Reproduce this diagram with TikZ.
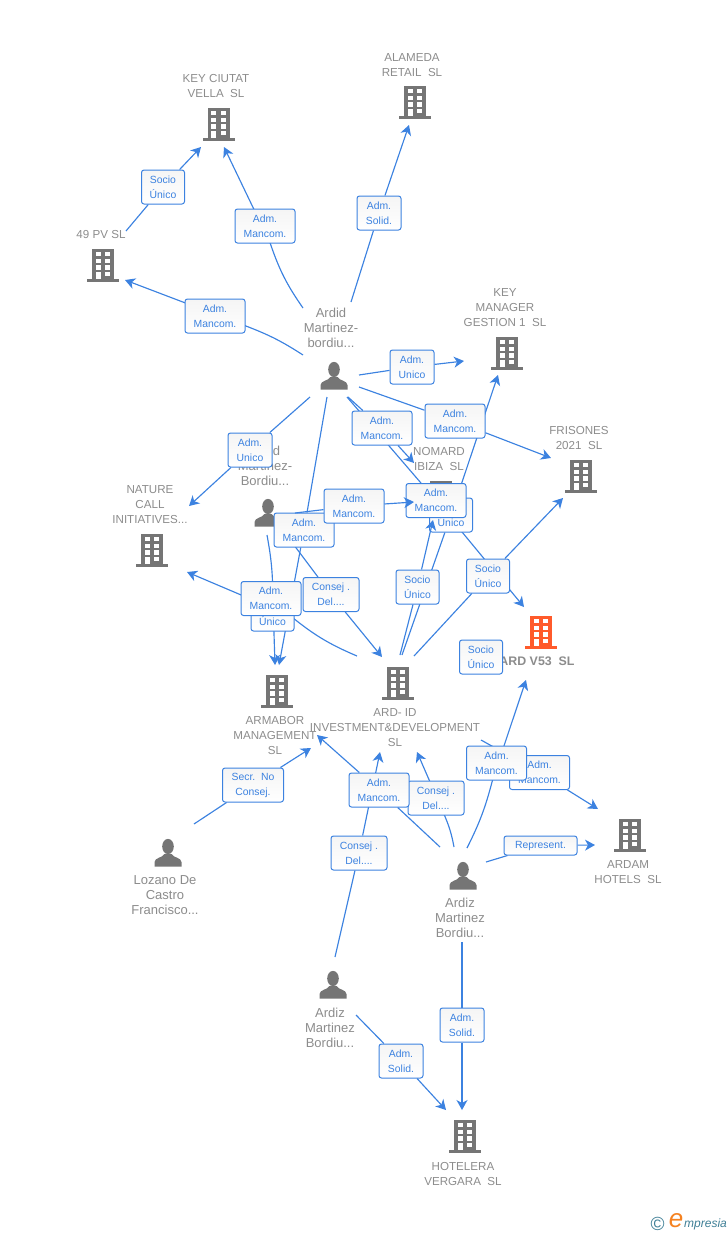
\documentclass[tikz,border=0pt]{standalone}
\usepackage{fontspec}
\setmainfont{Liberation Sans}
\usepackage{tikz}
\usetikzlibrary{arrows.meta,backgrounds}

\definecolor{linkblue}{HTML}{3C82E0}
\definecolor{iconcol}{HTML}{757575}
\definecolor{textcol}{HTML}{8C8C8C}
\definecolor{mainorange}{HTML}{FF5A2B}
\definecolor{logoteal}{HTML}{3F7F96}
\definecolor{logoorange}{HTML}{F58220}

\tikzset{
    building/.pic={
        \fill [#1] (-11,-16.5) rectangle (11,13.5);
        \fill [#1] (-16,13.5) rectangle (16,16.5);
        \foreach \r in {-13,-6.4,0.2} {
            \fill [white] (-7.5,\r) rectangle (-2.3,\r+4.4);
            \fill [white] (2.1,\r) rectangle (7.3,\r+4.4);
        }
        \fill [white] (-7.5,6.8) rectangle (-2.3,13.5);
        \fill [white] (2.1,6.8) rectangle (7.3,11.2);
    },
    person/.pic={
        \fill [iconcol] (0,-6.5) ellipse (5.8 and 7.6);
        \fill [iconcol] (-13.5,13.5) -- (-13.5,9) .. controls (-13,4.5) and (-6,5) .. (-3.5,1) -- (3.5,1) .. controls (6,5) and (13,4.5) .. (13.5,9) -- (13.5,13.5) -- cycle;
    },
    company/.style = {text = textcol, align = center, inner sep = 0, font = \fontsize{11.6}{15}\selectfont},
    owner/.style = {text = textcol, align = center, inner sep = 0, font = \fontsize{13}{15}\selectfont},
    rolebox/.style = {draw = linkblue, line width = 1pt, rounded corners = 2.5pt, top color = black!4, bottom color = white,
        text = linkblue, align = center, inner sep = 0, minimum height = 34, minimum width = #1, font = \fontsize{10.4}{15}\selectfont},
    rolebox/.default = 60,
    link/.style = {draw = linkblue, line width = 1.15pt, -{Stealth[length = 10pt, width = 11pt, inset = 3pt]}}
}

\begin{document}
\begin{tikzpicture}[x = 1pt, y = -1pt]
    \useasboundingbox (0,0) rectangle (728,1235);

    \pic at (218.5,124) {building = iconcol};
    \pic at (415,102) {building = iconcol};
    \pic at (103,265) {building = iconcol};
    \pic at (507,353) {building = iconcol};
    \pic at (581,476) {building = iconcol};
    \pic at (441,497) {building = iconcol};
    \pic at (152,550) {building = iconcol};
    \pic at (541,632) {building = mainorange};
    \pic at (277,691) {building = iconcol};
    \pic at (398,683) {building = iconcol};
    \pic at (630,835) {building = iconcol};
    \pic at (465,1136) {building = iconcol};

    \pic at (334,376) {person};
    \pic at (268,513) {person};
    \pic at (168,853) {person};
    \pic at (463,876) {person};
    \pic at (333,985) {person};

    \node [company] (keyciutat) at (216,86) {KEY CIUTAT\\VELLA\ \ SL};
    \node [company] (alameda) at (412,65) {ALAMEDA\\RETAIL\ \ SL};
    \node [company] (pv49) at (101,234.5) {49 PV SL};
    \node [company] (keymanager) at (505,307.5) {KEY\\MANAGER\\GESTION 1\ \ SL};
    \node [company] (frisones) at (579,438) {FRISONES\\2021\ \ SL};
    \node [company] (nomard) at (439,459) {NOMARD\\IBIZA\ \ SL};
    \node [company] (nature) at (150,504.5) {NATURE\\CALL\\INITIATIVES...};
    \node [company, font = \fontsize{12.4}{15}\selectfont\bfseries] (ardv53) at (537,661.5) {ARD V53\ \ SL};
    \node [company] (armabor) at (275,735.5) {ARMABOR\\MANAGEMENT\\SL};
    \node [company] (ardid) at (395,727.5) {ARD- ID\\INVESTMENT\&DEVELOPMENT\\SL};
    \node [company] (ardam) at (628,872) {ARDAM\\HOTELS\ \ SL};
    \node [company] (hotelera) at (463,1174) {HOTELERA\\VERGARA\ \ SL};

    \node [owner] (ardidtop) at (331,328) {Ardid\\Martinez-\\bordiu...};
    \node [owner] (ardidmid) at (265,466) {Ardid\\Martinez-\\Bordiu...};
    \node [owner] (lozano) at (165,895) {Lozano De\\Castro\\Francisco...};
    \node [owner] (ardizright) at (460,918) {Ardiz\\Martinez\\Bordiu...};
    \node [owner] (ardizleft) at (330,1028) {Ardiz\\Martinez\\Bordiu...};

    \node [rolebox = 43] (r1) at (163,187) {Socio\\Único};
    \node [rolebox] (r2) at (265,226) {Adm.\\Mancom.};
    \node [rolebox = 44] (r3) at (379,213) {Adm.\\Solid.};
    \node [rolebox] (r4) at (215,316) {Adm.\\Mancom.};
    \node [rolebox = 44] (r5) at (412,367) {Adm.\\Unico};
    \node [rolebox] (r6) at (455,421) {Adm.\\Mancom.};
    \node [rolebox] (r7) at (382,428) {Adm.\\Mancom.};
    \node [rolebox = 44] (r8) at (250,450) {Adm.\\Unico};
    \node [rolebox = 43] (r9) at (451,515) {Adm.\\Único};
    \node [rolebox] (r10) at (436,500.5) {Adm.\\Mancom.};
    \node [rolebox] (r11) at (304,530) {Adm.\\Mancom.};
    \node [rolebox] (r12) at (354,506) {Adm.\\Mancom.};
    \node [rolebox = 43] (r13) at (417.5,587) {Socio\\Único};
    \node [rolebox = 43] (r14) at (488,576) {Socio\\Único};
    \node [rolebox = 56] (r15) at (331,594.5) {Consej .\\Del....};
    \node [rolebox = 43] (r16) at (272.5,614) {Adm.\\Único};
    \node [rolebox] (r17) at (271,598.5) {Adm.\\Mancom.};
    \node [rolebox = 43] (r18) at (481,657) {Socio\\Único};
    \node [rolebox = 61] (r19) at (253,785) {Secr.\ \ No\\Consej.};
    \node [rolebox] (r20) at (539.5,772.5) {Adm.\\Mancom.};
    \node [rolebox] (r21) at (496.5,763) {Adm.\\Mancom.};
    \node [rolebox = 56] (r22) at (436,798) {Consej .\\Del....};
    \node [rolebox] (r23) at (379,790) {Adm.\\Mancom.};
    \node [rolebox = 56] (r24) at (359,853) {Consej .\\Del....};
    \node [rolebox = 73, minimum height = 19] (r25) at (540.5,845.5) {Represent.};
    \node [rolebox = 44] (r26) at (462,1025) {Adm.\\Solid.};
    \node [rolebox = 44] (r27) at (401,1061) {Adm.\\Solid.};

    \coordinate (a1) at (126,231);    \coordinate (z1) at (201,147);
    \coordinate (a2) at (303,308);    \coordinate (z2) at (224,147);
    \coordinate (a3) at (351,302);    \coordinate (z3) at (409,125);
    \coordinate (a4) at (303,355);    \coordinate (z4) at (125,280);
    \coordinate (a5) at (359,375);    \coordinate (z5) at (464,361);
    \coordinate (a6) at (359,387);    \coordinate (z6) at (551,458);
    \coordinate (a7) at (348,397);    \coordinate (z7) at (414,463);
    \coordinate (a8) at (310,397);    \coordinate (z8) at (189,506);
    \coordinate (a9) at (347,397);    \coordinate (z9) at (524,607);
    \coordinate (a10) at (327,397);   \coordinate (z10) at (279,665);
    \coordinate (a11) at (267,535);   \coordinate (z11) at (275,665);
    \coordinate (a12) at (285,533);   \coordinate (z12) at (382,657);
    \coordinate (a13) at (295,513);   \coordinate (z13) at (414,502);
    \coordinate (a14) at (357,656);   \coordinate (z14) at (187,572);
    \coordinate (a15) at (402,655);   \coordinate (z15) at (498,375);
    \coordinate (a16) at (400,655);   \coordinate (z16) at (433,520);
    \coordinate (a17) at (414,656);   \coordinate (z17) at (563,498);
    \coordinate (a18) at (194,824);   \coordinate (z18) at (311,748);
    \coordinate (a19) at (481,740);   \coordinate (z19) at (598,809);
    \coordinate (a20) at (467,848);   \coordinate (z20) at (526,680);
    \coordinate (a21) at (454,847);   \coordinate (z21) at (417,752);
    \coordinate (a22) at (440,847);   \coordinate (z22) at (317,735);
    \coordinate (a23) at (335,957);   \coordinate (z23) at (380,752);
    \coordinate (a24) at (486,862);   \coordinate (z24) at (595,845);
    \coordinate (a25) at (462,942);   \coordinate (z25) at (462,1110);
    \coordinate (a26) at (356,1015);  \coordinate (z26) at (446,1110);

    \begin{pgfonlayer}{background}
        \draw [link] (a1) -- (r1) -- (z1);
        \draw [link] (a2) to [bend left = 8] (r2) -- (z2);
        \draw [link] (a3) -- (r3) -- (z3);
        \draw [link] (a4) to [bend right = 6] (r4) -- (z4);
        \draw [link] (a5) -- (r5) -- (z5);
        \draw [link] (a6) -- (r6) -- (z6);
        \draw [link] (a7) -- (r7) -- (z7);
        \draw [link] (a8) -- (r8) -- (z8);
        \draw [link] (a9) -- (r10) -- (z9);
        \draw [link] (a10) -- (r11) -- (z10);
        \draw [link] (a11) to [bend left = 5] (r16) -- (z11);
        \draw [link] (a12) -- (r15) -- (z12);
        \draw [link] (a14) to [bend left = 8] (r17) -- (z14);
        \draw [link] (a15) -- (r9) -- (z15);
        \draw [link] (a17) -- (r14) -- (z17);
        \draw [link] (a18) -- (r19) -- (z18);
        \draw [link] (a19) -- (r20) -- (z19);
        \draw [link] (a20) to [bend right = 6] (r21) -- (z20);
        \draw [link] (a21) to [bend right = 6] (r22) -- (z21);
        \draw [link] (a22) -- (r23) -- (z22);
        \draw [link] (a23) -- (r24) -- (z23);
        \draw [link] (a24) -- (r25) -- (z24);
        \draw [link] (a25) -- (r26) -- (z25);
        \draw [link] (a26) -- (r27) -- (z26);
    \end{pgfonlayer}

    \draw [link] (a13) -- (r12) -- (z13);
    \draw [link] (a16) -- (r13) -- (z16);

    \node [inner sep = 0, text = logoteal, font = \fontsize{19}{19}\selectfont] (logoc) at (657.5,1224) {©};
    \node [inner sep = 0, text = logoorange, font = \itshape\fontsize{26}{26}\selectfont] (logoe) at (676,1221) {e};
    \node [inner sep = 0, anchor = west, text = logoteal, font = \itshape\fontsize{12}{12}\selectfont] (logot) at (684,1224) {mpresia};
\end{tikzpicture}
\end{document}
